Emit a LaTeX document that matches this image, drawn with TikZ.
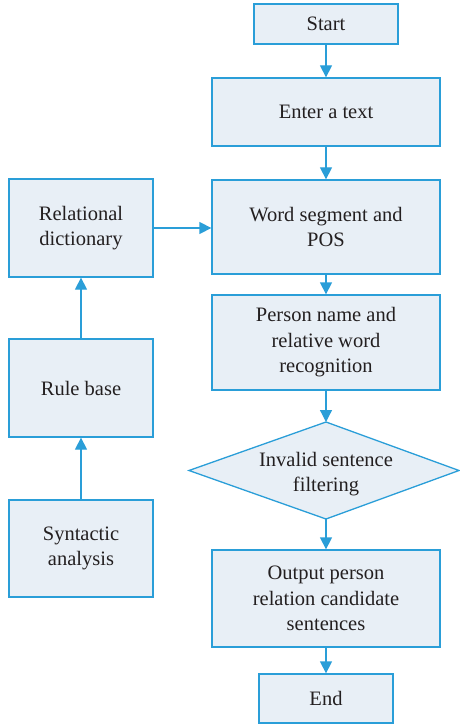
\documentclass[tikz,border=0pt]{standalone}
\usepackage{fontspec}
\setmainfont{Liberation Serif}
\usetikzlibrary{arrows.meta,shapes.geometric}
\definecolor{edge}{HTML}{2A9ED8}
\definecolor{boxfill}{HTML}{E8EFF6}
\definecolor{ink}{HTML}{231F20}
\tikzset{
  label font/.style={text=ink, font=\fontsize{20.5}{25.5}\selectfont},
  box/.style={draw=edge, fill=boxfill, line width=1.3pt, align=center,
    label font, inner sep=0pt},
  flow/.style={draw=edge, line width=1.3pt, -{Triangle[length=12pt,width=12pt]}}
}
\begin{document}
\begin{tikzpicture}[x=1pt,y=-1pt]
\useasboundingbox (0,0) rectangle (459,727);
% main column
\node[box, minimum width=144pt, minimum height=40pt] (start) at (326,24) {Start};
\node[box, minimum width=228pt, minimum height=68pt] (enter) at (326,112) {Enter a text};
\node[box, minimum width=228pt, minimum height=94pt] (seg) at (326,227) {Word segment and\\POS};
\node[box, minimum width=228pt, minimum height=95pt] (person) at (326,342.5) {Person name and\\relative word\\recognition};
% decision diamond
\draw[line width=1.3pt, draw=edge, fill=boxfill] (189,470.5) coordinate (dl) -- (326,422) coordinate (dt) -- (459,470.5) coordinate (dr) -- (326,519) coordinate (db) -- cycle;
\node[align=center, label font] (filter) at (326,474) {Invalid sentence\\filtering};
\node[box, minimum width=228pt, minimum height=97pt] (output) at (326,598.5) {Output person\\relation candidate\\sentences};
\node[box, minimum width=134pt, minimum height=49pt] (end) at (326,698.5) {End};
% side column
\node[box, minimum width=144pt, minimum height=98pt] (dict) at (81,228) {Relational\\dictionary};
\node[box, minimum width=144pt, minimum height=98pt] (rule) at (81,388) {Rule base};
\node[box, minimum width=144pt, minimum height=97pt] (syn) at (81,548.5) {Syntactic\\analysis};
% connectors
\draw[flow] (start) -- (enter);
\draw[flow] (enter) -- (seg);
\draw[flow] (seg) -- (person);
\draw[flow] (person) -- (dt);
\draw[flow] (db) -- (output);
\draw[flow] (output) -- (end);
\draw[flow] (dict.east) -- (dict.east -| seg.west);
\draw[flow] (syn) -- (rule);
\draw[flow] (rule) -- (dict);
\end{tikzpicture}
\end{document}
